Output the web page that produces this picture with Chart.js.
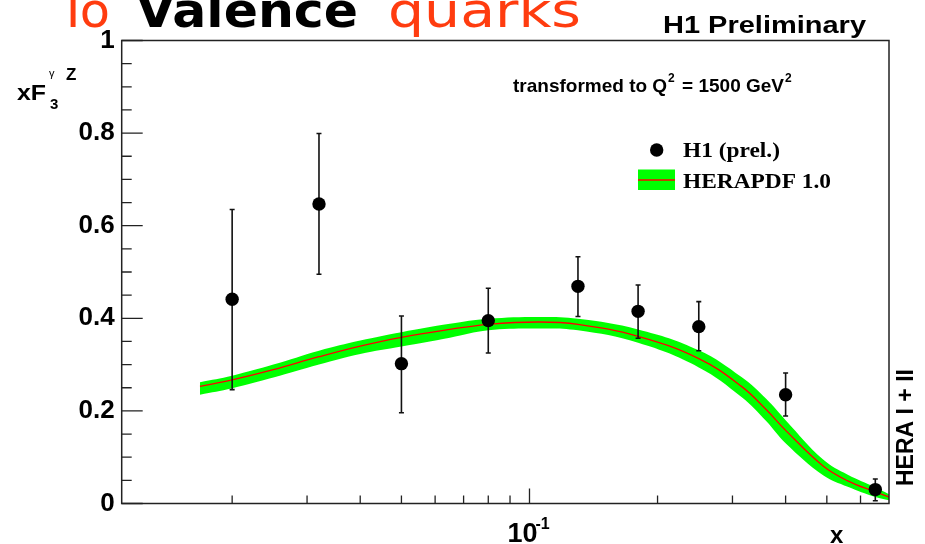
<!DOCTYPE html>
<html>
<head>
<meta charset="utf-8">
<title>xF3 gamma Z</title>
<script src="https://cdn.jsdelivr.net/npm/chart.js@4.4.0/dist/chart.umd.min.js"></script>
<style>
  html, body { margin: 0; padding: 0; background: #fff; }
  #wrap { width: 925px; height: 544px; position: relative; }
</style>
</head>
<body>
<div id="wrap"><canvas id="chart"></canvas></div>
<script>
// H1 (prel.) measurements
const pointX = [0.02, 0.032, 0.05, 0.08, 0.13, 0.18, 0.25, 0.40, 0.65];
const pointY = [0.441, 0.647, 0.302, 0.395, 0.469, 0.415, 0.382, 0.235, 0.030];
const errUp = [0.194, 0.152, 0.103, 0.070, 0.064, 0.057, 0.054, 0.047, 0.023];
const errDown = [0.195, 0.152, 0.106, 0.070, 0.065, 0.058, 0.052, 0.046, 0.024];

// HERAPDF 1.0 central value and error band
const pdfX = [0.0168, 0.02, 0.025, 0.032, 0.04, 0.05, 0.065, 0.08, 0.105, 0.13, 0.18, 0.25, 0.315, 0.36, 0.40, 0.49, 0.56, 0.65, 0.70];
const pdfMid = [0.253, 0.267, 0.289, 0.317, 0.340, 0.359, 0.376, 0.387, 0.392, 0.387, 0.361, 0.313, 0.253, 0.203, 0.158, 0.081, 0.049, 0.025, 0.014];
const pdfUp = [0.262, 0.276, 0.300, 0.330, 0.352, 0.370, 0.388, 0.399, 0.403, 0.399, 0.376, 0.331, 0.273, 0.226, 0.180, 0.095, 0.062, 0.035, 0.020];
const pdfLow = [0.235, 0.249, 0.272, 0.300, 0.323, 0.339, 0.358, 0.374, 0.378, 0.374, 0.347, 0.294, 0.230, 0.178, 0.130, 0.061, 0.036, 0.014, 0.007];

// Axis ticks
const yMajor = [0, 0.2, 0.4, 0.6, 0.8, 1];
const yMinor = [0.05, 0.1, 0.15, 0.25, 0.3, 0.35, 0.45, 0.5, 0.55, 0.65, 0.7, 0.75, 0.85, 0.9, 0.95];
const xMajor = [0.1];
const xMinor = [0.02, 0.03, 0.04, 0.05, 0.06, 0.07, 0.08, 0.09, 0.2, 0.3, 0.4, 0.5, 0.6];

const SANS = '"Liberation Sans", Arial, sans-serif';
const SERIF = '"Liberation Serif", "Times New Roman", serif';
const AXIS_COLOR = '#222';

const toXY = (xs, ys) => xs.map((x, i) => ({ x: x, y: ys[i] }));

// Draw text squeezed/stretched to a given width
function fitText(ctx, text, x, y, width) {
    const w = ctx.measureText(text).width;
    ctx.save();
    ctx.translate(x, y);
    ctx.scale(width / w, 1);
    ctx.fillText(text, 0, 0);
    ctx.restore();
}

// Vertical error bars, drawn just before the points
const errorBars = {
    id: 'errorBars',
    beforeDatasetDraw(chart, args) {
        if (args.index !== 0) return;
        const { ctx, scales } = chart;
        ctx.save();
        ctx.strokeStyle = '#111';
        ctx.lineWidth = 1.6;
        pointX.forEach((x, i) => {
            const px = scales.x.getPixelForValue(x);
            const top = scales.y.getPixelForValue(pointY[i] + errUp[i]);
            const bot = scales.y.getPixelForValue(pointY[i] - errDown[i]);
            ctx.beginPath();
            ctx.moveTo(px, top);
            ctx.lineTo(px, bot);
            ctx.moveTo(px - 2.5, top);
            ctx.lineTo(px + 2.5, top);
            ctx.moveTo(px - 2.5, bot);
            ctx.lineTo(px + 2.5, bot);
            ctx.stroke();
        });
        ctx.restore();
    }
};

// ROOT style frame, inner ticks and all the labels
const decorations = {
    id: 'decorations',
    afterDraw(chart) {
        const { ctx, chartArea: a, scales } = chart;
        ctx.save();

        // frame
        ctx.strokeStyle = AXIS_COLOR;
        ctx.lineWidth = 1.5;
        ctx.strokeRect(a.left, a.top, a.right - a.left, a.bottom - a.top);

        // y ticks
        ctx.lineWidth = 1.3;
        ctx.beginPath();
        yMajor.forEach(v => {
            const py = scales.y.getPixelForValue(v);
            ctx.moveTo(a.left, py);
            ctx.lineTo(a.left + 21, py);
        });
        yMinor.forEach(v => {
            const py = scales.y.getPixelForValue(v);
            ctx.moveTo(a.left, py);
            ctx.lineTo(a.left + 10, py);
        });
        // x ticks
        xMajor.forEach(v => {
            const px = scales.x.getPixelForValue(v);
            ctx.moveTo(px, a.bottom);
            ctx.lineTo(px, a.bottom - 15);
        });
        xMinor.forEach(v => {
            const px = scales.x.getPixelForValue(v);
            ctx.moveTo(px, a.bottom);
            ctx.lineTo(px, a.bottom - 8);
        });
        ctx.stroke();

        ctx.fillStyle = '#000';
        ctx.textBaseline = 'alphabetic';
        ctx.textAlign = 'left';

        // x tick label 10^-1
        const px1 = scales.x.getPixelForValue(0.1);
        ctx.font = 'bold 27px ' + SANS;
        ctx.fillText('10', px1 - 22, 542);
        ctx.font = 'bold 16px ' + SANS;
        ctx.fillText('-1', px1 + 6, 529);

        // axis titles
        ctx.font = 'bold 24px ' + SANS;
        ctx.fillText('x', 830, 543);

        ctx.font = 'bold 22px ' + SANS;
        fitText(ctx, 'xF', 17, 100, 29);
        ctx.font = 'bold 15px ' + SANS;
        ctx.fillText('3', 50, 109);
        ctx.font = '11px ' + SANS;
        ctx.fillText('\u03b3', 49, 77);
        ctx.font = 'bold 17px ' + SANS;
        ctx.fillText('Z', 66, 80);

        // header texts
        ctx.font = 'bold 24px ' + SANS;
        fitText(ctx, 'H1 Preliminary', 663, 33, 203);

        ctx.font = 'bold 19px ' + SANS;
        let tx = 513;
        const part1 = 'transformed to Q';
        ctx.fillText(part1, tx, 92);
        tx += ctx.measureText(part1).width + 1;
        ctx.font = 'bold 12px ' + SANS;
        ctx.fillText('2', tx, 82);
        tx += ctx.measureText('2').width + 2;
        ctx.font = 'bold 19px ' + SANS;
        const part2 = ' = 1500 GeV';
        ctx.fillText(part2, tx, 92);
        tx += ctx.measureText(part2).width + 1;
        ctx.font = 'bold 12px ' + SANS;
        ctx.fillText('2', tx, 82);

        // legend
        ctx.beginPath();
        ctx.arc(656.7, 150, 6.7, 0, Math.PI * 2);
        ctx.fill();
        ctx.fillStyle = '#00ff00';
        ctx.fillRect(638, 169.5, 37, 20.5);
        ctx.strokeStyle = '#ff0000';
        ctx.lineWidth = 1.3;
        ctx.beginPath();
        ctx.moveTo(638, 180);
        ctx.lineTo(675, 180);
        ctx.stroke();
        ctx.fillStyle = '#000';
        ctx.font = 'bold 21px ' + SERIF;
        fitText(ctx, 'H1 (prel.)', 683, 156.5, 97);
        fitText(ctx, 'HERAPDF 1.0', 683, 188, 148);

        // rotated side label
        ctx.save();
        ctx.translate(913, 486);
        ctx.rotate(-Math.PI / 2);
        ctx.font = 'bold 23px ' + SANS;
        ctx.fillText('HERA I + II', 0, 0);
        ctx.restore();

        // slide title, cut off at the top
        ctx.fillStyle = '#ff3c0f';
        ctx.font = '48px "DejaVu Sans", sans-serif';
        fitText(ctx, 'To', 58, 27, 52);
        fitText(ctx, 'quarks', 388, 27, 193);
        ctx.fillStyle = '#000';
        ctx.font = 'bold 48px "DejaVu Sans", sans-serif';
        fitText(ctx, 'Valence', 136, 27, 222);

        ctx.restore();
    }
};

const chart = new Chart(document.getElementById('chart'), {
    type: 'line',
    data: {
        datasets: [
            {
                label: 'H1 (prel.)',
                data: toXY(pointX, pointY),
                showLine: false,
                pointRadius: 6.7,
                pointHoverRadius: 6.7,
                pointBackgroundColor: '#000',
                pointBorderWidth: 0,
                order: 0
            },
            {
                label: 'HERAPDF 1.0',
                data: toXY(pdfX, pdfMid),
                borderColor: '#ff0000',
                borderWidth: 1.3,
                pointRadius: 0,
                tension: 0.4,
                fill: false,
                order: 1
            },
            {
                label: 'band low',
                data: toXY(pdfX, pdfLow),
                borderWidth: 0,
                borderColor: 'rgba(0,0,0,0)',
                pointRadius: 0,
                tension: 0.4,
                fill: false,
                order: 3
            },
            {
                label: 'band high',
                data: toXY(pdfX, pdfUp),
                borderWidth: 0,
                borderColor: 'rgba(0,0,0,0)',
                backgroundColor: '#00ff00',
                pointRadius: 0,
                tension: 0.4,
                fill: '-1',
                order: 2
            }
        ]
    },
    options: {
        responsive: true,
        maintainAspectRatio: false,
        animation: false,
        events: [],
        layout: { padding: { top: 40.5, right: 36, bottom: 0, left: 0 } },
        plugins: {
            legend: { display: false },
            tooltip: { enabled: false }
        },
        scales: {
            x: {
                type: 'logarithmic',
                min: 0.011,
                max: 0.70,
                border: { display: false },
                grid: { display: false, drawTicks: false },
                ticks: { display: false },
                afterFit(scale) { scale.height = 40.5; }
            },
            y: {
                min: 0,
                max: 1,
                border: { display: false },
                grid: { display: false, drawTicks: false },
                ticks: {
                    stepSize: 0.2,
                    padding: 7,
                    color: '#000',
                    font: { family: SANS, weight: 'bold', size: 26 },
                    callback: v => String(Math.round(v * 10) / 10)
                },
                afterFit(scale) { scale.width = 121.7; }
            }
        }
    },
    plugins: [errorBars, decorations]
});
</script>
</body>
</html>
